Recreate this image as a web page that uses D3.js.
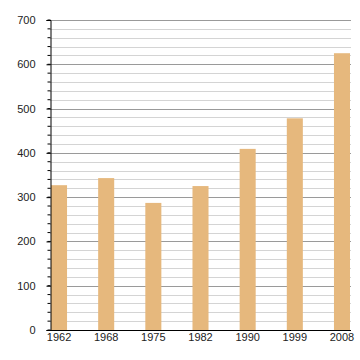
<!DOCTYPE html>
<html>
<head>
<meta charset="utf-8">
<script src="https://cdn.jsdelivr.net/npm/d3@7"></script>
<style>
body { margin: 0; background: #fff; }
text { font-family: "Liberation Sans", Arial, sans-serif; font-size: 11px; fill: #222; }
</style>
</head>
<body>
<svg id="chart" width="360" height="360"></svg>
<script>
var years = ["1962", "1968", "1975", "1982", "1990", "1999", "2008"];
var values = [327, 343, 287, 325, 409, 478, 625];
var yTicks = [0, 100, 200, 300, 400, 500, 600, 700];

var svg = d3.select("#chart");
var mLeft = 50, mRight = 351, mTop = 20, mBottom = 330;

var x = d3.scaleBand().domain(years).range([mLeft + 1, mRight - 1]).paddingInner(0.66).paddingOuter(0);
var y = d3.scaleLinear().domain([0, 700]).range([mBottom, mTop]);

var minor = d3.range(0, 701, 20);

// grid lines
svg.append("g").selectAll("line").data(minor).enter().append("line")
	.attr("x1", mLeft).attr("x2", mRight)
	.attr("y1", function (d) { return Math.round(y(d)) + 0.5; })
	.attr("y2", function (d) { return Math.round(y(d)) + 0.5; })
	.attr("stroke", function (d) { return d % 100 == 0 ? "#9a9a9a" : "#d4d4d4"; })
	.attr("stroke-width", 1);

// bars
svg.append("g").selectAll("rect").data(values).enter().append("rect")
	.attr("x", function (d, i) { return x(years[i]); })
	.attr("width", x.bandwidth())
	.attr("y", function (d) { return y(d); })
	.attr("height", function (d) { return mBottom - y(d); })
	.attr("fill", "#e6b87d");

// y axis
var yAxis = d3.axisLeft(y).tickValues(yTicks).tickSize(4).tickPadding(11);
var gy = svg.append("g").attr("transform", "translate(" + (mLeft + 0.5) + ",0)").call(yAxis);
gy.select(".domain").attr("stroke", "#000");
gy.selectAll(".tick line").attr("stroke", "#000");
gy.append("g").selectAll("line").data(minor).enter().append("line")
	.attr("x1", -3).attr("x2", 0)
	.attr("y1", function (d) { return y(d); })
	.attr("y2", function (d) { return y(d); })
	.attr("stroke", "#000");

// x axis
var xAxis = d3.axisBottom(x).tickSize(0).tickPadding(3);
var gx = svg.append("g").attr("transform", "translate(0," + (mBottom + 0.5) + ")").call(xAxis);
gx.select(".domain").attr("stroke", "#000").attr("d", "M" + mLeft + ",0H" + mRight);
</script>
</body>
</html>
